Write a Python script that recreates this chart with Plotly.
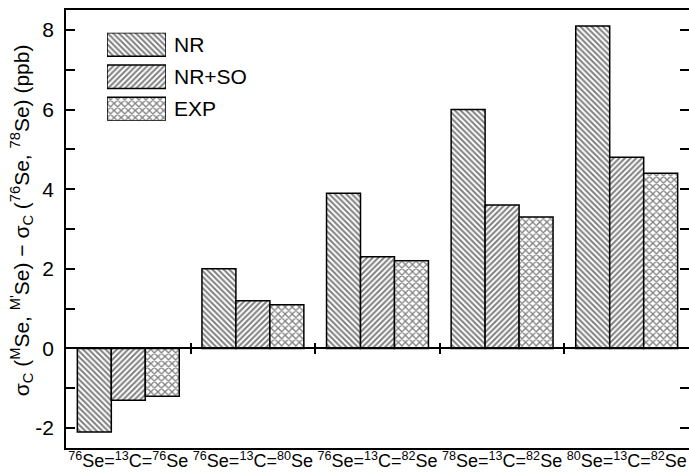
import plotly.graph_objects as go

categories = [
    "<sup>76</sup>Se=<sup>13</sup>C=<sup>76</sup>Se",
    "<sup>76</sup>Se=<sup>13</sup>C=<sup>80</sup>Se",
    "<sup>76</sup>Se=<sup>13</sup>C=<sup>82</sup>Se",
    "<sup>78</sup>Se=<sup>13</sup>C=<sup>82</sup>Se",
    "<sup>80</sup>Se=<sup>13</sup>C=<sup>82</sup>Se",
]
series_names = ["NR", "NR+SO", "EXP"]
nr = [-2.1, 2.0, 3.9, 6.0, 8.1]
nr_so = [-1.3, 1.2, 2.3, 3.6, 4.8]
exp = [-1.2, 1.1, 2.2, 3.3, 4.4]
patterns = ["\\", "/", "x"]
y_ticks = [-2, 0, 2, 4, 6, 8]
y_ticktext = ["-2", "0", "2", "4", "6", "8"]

W, H = 689, 472
ML, MR, MT, MB = 66, 0, 10, 24
PW, PH = W - ML - MR, H - MT - MB
FONT = "Liberation Sans, Arial, sans-serif"

pat_size = {"\\": 4, "/": 4, "x": 5}
pat_sol = {"\\": 0.5, "/": 0.5, "x": 0.45}

xpos = list(range(len(categories)))
fig = go.Figure()
for name, vals, pat in zip(series_names, [nr, nr_so, exp], patterns):
    fig.add_trace(go.Bar(
        x=xpos, y=vals, name=name, showlegend=False,
        marker=dict(color="white", line=dict(color="black", width=1.5),
                    pattern=dict(shape=pat, fgcolor="black", bgcolor="white",
                                 size=pat_size[pat], solidity=pat_sol[pat])),
    ))

# invisible traces to activate overlay axes for zero-line ticks
for ax in ["x3", "x4"]:
    fig.add_trace(go.Scatter(x=[0], y=[0], xaxis=ax, yaxis="y", mode="markers",
                             marker=dict(opacity=0), showlegend=False, hoverinfo="skip"))

# legend swatches on a small auxiliary axis pair
fig.add_trace(go.Bar(
    x=[1, 1, 1], y=[2, 1, 0], orientation="h", width=0.73, xaxis="x5", yaxis="y5",
    showlegend=False, hoverinfo="skip",
    marker=dict(color="white", line=dict(color="black", width=1.5),
                pattern=dict(shape=patterns, fgcolor="black", bgcolor="white",
                             size=[pat_size[p] for p in patterns],
                             solidity=[pat_sol[p] for p in patterns])),
))

yr = [-2.5, 8.5]
zero_pos = (0 - yr[0]) / (yr[1] - yr[0])
bounds = [i + 0.5 for i in range(len(categories) - 1)]

def px2fx(px):
    return (px - ML) / PW

def py2fy(py):
    return (H - MB - py) / PH

fig.update_layout(
    width=W, height=H,
    margin=dict(l=ML, r=MR, t=MT, b=MB, pad=0),
    plot_bgcolor="white", paper_bgcolor="white",
    font=dict(family=FONT, color="black"),
    barmode="group", bargap=0.182, bargroupgap=0,
    showlegend=False,
    xaxis=dict(
        range=[-0.5, 4.5], tickvals=xpos, ticktext=categories,
        showline=True, linecolor="black", linewidth=1.5, mirror=True,
        ticks="", showgrid=False, zeroline=False,
        tickfont=dict(size=18, family=FONT), automargin=False,
        ticklabelstandoff=-4,
    ),
    xaxis3=dict(
        overlaying="x", anchor="free", position=zero_pos, range=[-0.5, 4.5],
        tickvals=bounds, ticks="outside", ticklen=5, tickwidth=1.5, tickcolor="black",
        showticklabels=False, showline=True, linecolor="black", linewidth=1.5,
        showgrid=False, zeroline=False,
    ),
    xaxis4=dict(
        overlaying="x", anchor="free", position=zero_pos, range=[-0.5, 4.5],
        tickvals=bounds, ticks="inside", ticklen=5, tickwidth=1.5, tickcolor="black",
        showticklabels=False, showline=False, showgrid=False, zeroline=False,
    ),
    yaxis=dict(
        range=yr, tickvals=y_ticks, ticktext=y_ticktext, ticks="inside", ticklen=9,
        tickwidth=1.5, tickcolor="black", showline=True, linecolor="black", linewidth=1.5,
        mirror="allticks", showgrid=False, zeroline=False,
        tickfont=dict(size=21, family=FONT), ticklabelstandoff=6,
        minor=dict(dtick=1, tick0=1, ticks="inside", ticklen=6, tickwidth=1.5,
                   tickcolor="black", showgrid=False),
        automargin=False,
    ),
    xaxis5=dict(domain=[px2fx(107), px2fx(166)], range=[0, 1], visible=False,
                anchor="y5", fixedrange=True),
    yaxis5=dict(domain=[py2fy(120.7), py2fy(32.7)], range=[-0.365, 2.365],
                visible=False, anchor="x5", fixedrange=True),
)

legend_y = [2, 1, 0]
for name, yy in zip(series_names, legend_y):
    fig.add_annotation(x=1, y=yy, xref="x5", yref="y5", text=name, showarrow=False,
                       xanchor="left", yanchor="middle", xshift=6,
                       font=dict(size=21, family=FONT, color="black"))

fig.add_annotation(
    x=px2fx(21), y=0.52, xref="paper", yref="paper", textangle=-90, showarrow=False,
    xanchor="center", yanchor="middle",
    text="σ<sub>C</sub> (<sup>M</sup>Se, <sup>M'</sup>Se) − σ<sub>C</sub> (<sup>76</sup>Se, <sup>78</sup>Se) (ppb)",
    font=dict(size=21, family=FONT, color="black"),
)

fig.write_html("out.html")
